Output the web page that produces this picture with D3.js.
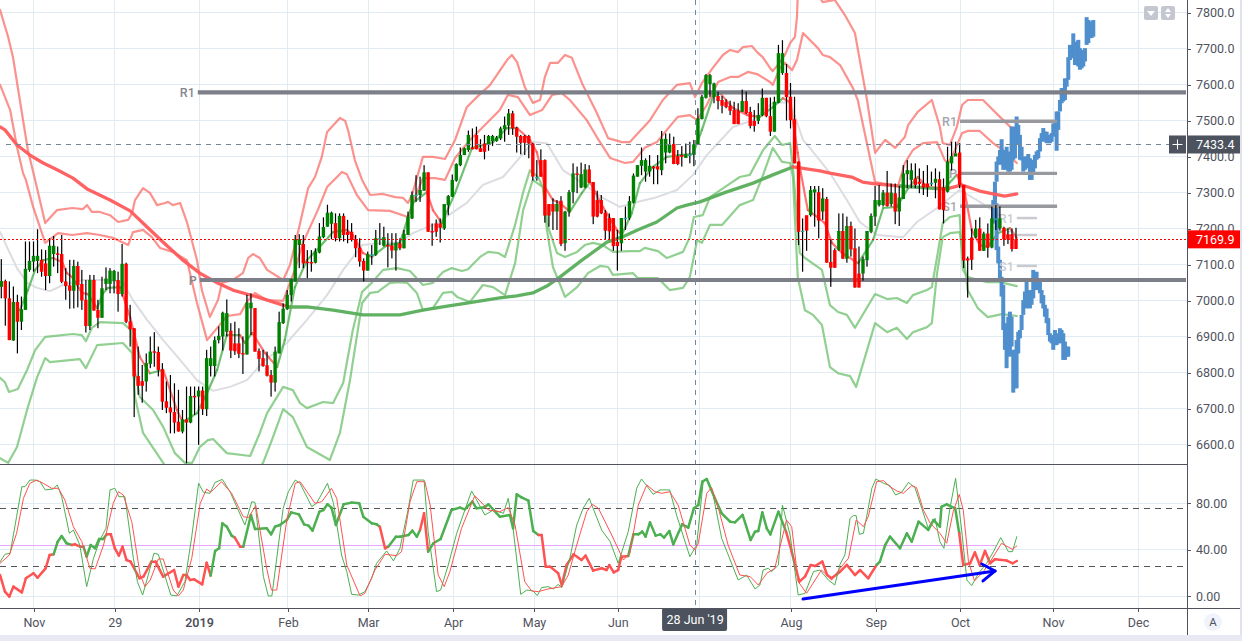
<!DOCTYPE html>
<html><head><meta charset="utf-8">
<style>html,body{margin:0;padding:0;background:#fff;overflow:hidden}svg{display:block}text{font-family:Roboto,sans-serif}</style>
<script src="https://cdn.jsdelivr.net/npm/d3@7"></script></head><body><div id="c"></div>
<script>
const priceTicks=[6600,6700,6800,6900,7000,7100,7200,7300,7400,7500,7600,7700,7800];
const rsiTicks=[0,40,80];
const timeTickBars=[8.1,28.2,49.1,71.2,91.1,112.2,132.3,153.1,173.5,196.1,217.2,238.1,261.2,282.3];
const timeTickLabels=["Nov","29","2019","Feb","Mar","Apr","May","Jun","","Aug","Sep","Oct","Nov","Dec"];
const opens=[7038,7054,7006,6889,6996,6941,6974,7085,7108,7110,
7113,7103,7068,7129,7131,7129,7053,7042,7027,7096,
7046,7002,6929,7057,6974,6952,7046,7046,7054,7057,
7018,7102,6942,6923,6790,6776,6775,6824,6859,6857,
6809,6720,6703,6690,6663,6636,6670,6661,6735,6733,
6750,6698,6818,6818,6890,6900,6913,6916,6881,6881,
6854,6850,6978,6979,6860,6840,6820,6793,6772,6853,
6937,6976,7015,7053,7154,7157,7108,7107,7105,7133,
7176,7205,7213,7215,7173,7235,7191,7191,7170,7147,
7110,7083,7128,7127,7173,7152,7154,7153,7139,7159,
7145,7182,7228,7294,7293,7305,7356,7193,7214,7214,
7200,7265,7288,7333,7376,7404,7418,7425,7460,7423,
7436,7432,7443,7443,7450,7476,7486,7520,7480,7457,
7457,7457,7436,7343,7390,7390,7268,7268,7247,7277,
7159,7247,7301,7353,7314,7314,7364,7329,7279,7279,
7244,7229,7229,7163,7159,7230,7229,7272,7344,7374,
7358,7358,7372,7373,7362,7411,7411,7435,7401,7404,
7396,7406,7406,7434,7504,7563,7601,7566,7568,7557,
7552,7541,7529,7527,7524,7554,7524,7499,7499,7515,
7563,7512,7469,7549,7632,7632,7566,7503,7386,7194,
7237,7237,7300,7301,7247,7282,7107,7140,7140,7193,
7116,7207,7145,7075,7075,7112,7191,7233,7265,7265,
7300,7268,7298,7247,7282,7351,7335,7339,7330,7325,
7325,7327,7327,7337,7314,7302,7381,7400,7411,7321,
7117,7175,7175,7200,7138,7186,7147,7228,7200,7202,
7184,7184,7170];
const closes=[7054,7006,6890,6996,6941,6976,7088,7110,7124,7124,
7080,7068,7152,7152,7127,7052,7040,7027,7096,7043,
7000,6929,7057,6972,6952,7034,7061,7083,7082,7018,
7102,6941,6920,6789,6763,6763,6826,6858,6855,6807,
6719,6702,6689,6661,6636,6670,6661,6735,6731,6750,
6698,6840,6840,6890,6902,6966,6965,6861,6859,6852,
6850,6994,6994,6858,6838,6818,6791,6772,6858,6940,
6977,7016,7059,7170,7170,7103,7105,7105,7136,7178,
7204,7244,7244,7173,7235,7182,7182,7168,7145,7108,
7083,7129,7128,7173,7173,7176,7152,7139,7159,7145,
7185,7233,7293,7294,7307,7356,7191,7189,7191,7202,
7268,7290,7335,7379,7404,7423,7460,7420,7420,7413,
7413,7457,7457,7453,7478,7487,7520,7478,7455,7438,
7438,7436,7344,7343,7344,7236,7236,7247,7268,7157,
7247,7301,7353,7350,7351,7364,7327,7233,7233,7242,
7194,7192,7151,7151,7229,7230,7276,7347,7376,7390,
7390,7374,7367,7364,7449,7449,7432,7379,7379,7399,
7406,7406,7434,7506,7566,7626,7626,7603,7554,7541,
7537,7527,7490,7490,7554,7520,7485,7485,7515,7563,
7512,7469,7552,7687,7687,7565,7501,7381,7191,7194,
7194,7307,7309,7222,7284,7105,7091,7091,7193,7116,
7207,7142,7036,7036,7115,7193,7235,7279,7279,7300,
7262,7300,7247,7286,7353,7362,7362,7321,7324,7314,
7314,7327,7338,7253,7251,7386,7401,7409,7321,7111,
7111,7113,7200,7138,7186,7147,7228,7228,7228,7170,
7170,7143,7143];
const highs=[7115,7058,7053,7039,7016,7011,7164,7164,7164,7198,
7142,7140,7173,7179,7150,7182,7090,7113,7113,7108,
7085,7057,7071,7071,7002,7066,7092,7090,7085,7080,
7157,7105,6988,6923,6872,6821,6853,6900,6912,6872,
6826,6775,6793,6770,6752,6696,6761,6761,6761,6761,
6761,6863,6872,6900,6928,6969,7003,6937,6941,6923,
6900,7016,7020,6979,6867,6863,6858,6807,6872,6969,
6992,7029,7060,7182,7184,7182,7140,7140,7145,7215,
7231,7266,7247,7242,7242,7242,7224,7215,7182,7173,
7117,7136,7154,7196,7215,7205,7187,7187,7187,7173,
7196,7247,7303,7348,7344,7376,7356,7214,7225,7228,
7268,7293,7350,7381,7425,7425,7472,7478,7483,7448,
7460,7460,7460,7457,7483,7511,7532,7527,7483,7460,
7460,7460,7438,7390,7420,7392,7268,7284,7279,7290,
7249,7307,7381,7372,7383,7379,7376,7329,7305,7293,
7251,7242,7229,7196,7229,7261,7290,7353,7376,7425,
7395,7404,7373,7404,7471,7464,7464,7455,7418,7429,
7436,7441,7446,7534,7571,7629,7629,7605,7580,7568,
7559,7555,7552,7548,7586,7580,7538,7529,7548,7589,
7563,7564,7566,7710,7723,7657,7604,7566,7386,7228,
7233,7318,7318,7318,7312,7288,7170,7145,7242,7242,
7233,7219,7200,7150,7122,7193,7242,7318,7321,7307,
7360,7325,7325,7318,7376,7390,7381,7381,7367,7360,
7376,7358,7367,7358,7339,7427,7441,7441,7437,7321,
7122,7200,7224,7231,7191,7214,7261,7265,7261,7205,
7200,7200,7202];
const lows=[7006,6930,6890,6888,6853,6918,6974,7080,7080,7076,
7066,7029,7048,7094,7076,7048,7002,6977,6978,6981,
6974,6911,6918,6972,6923,6952,7029,7020,7020,6969,
7011,6937,6872,6676,6738,6716,6747,6812,6816,6789,
6696,6687,6631,6631,6636,6631,6548,6659,6682,6599,
6682,6679,6789,6789,6881,6861,6900,6840,6849,6840,
6796,6850,6904,6858,6803,6816,6789,6733,6747,6853,
6935,6974,6997,7053,7090,7090,7062,7080,7103,7131,
7173,7205,7170,7164,7164,7164,7159,7164,7120,7094,
7053,7083,7099,7124,7154,7150,7092,7117,7083,7140,
7145,7182,7226,7274,7274,7305,7191,7152,7177,7161,
7196,7237,7288,7330,7373,7404,7413,7420,7420,7413,
7392,7416,7429,7441,7446,7441,7460,7460,7411,7406,
7404,7395,7333,7333,7344,7216,7205,7196,7196,7151,
7138,7233,7270,7298,7312,7312,7327,7212,7231,7240,
7168,7168,7138,7083,7138,7196,7224,7270,7344,7348,
7330,7344,7323,7323,7348,7381,7409,7379,7376,7372,
7396,7381,7373,7432,7503,7561,7566,7548,7531,7520,
7534,7515,7490,7490,7524,7518,7478,7469,7490,7512,
7509,7457,7469,7548,7627,7500,7478,7381,7154,7080,
7138,7233,7205,7173,7224,7105,7038,7091,7138,7116,
7105,7122,7036,7036,7055,7094,7187,7207,7261,7261,
7261,7261,7212,7207,7282,7312,7312,7312,7298,7293,
7288,7318,7284,7253,7214,7300,7361,7409,7312,7090,
7008,7085,7173,7138,7138,7119,7145,7196,7194,7152,
7157,7136,7143];
const upperOuter=[[-.3,7807],[1.7,7732],[2.9,7676],[4.6,7557],[6.6,7418],[8.4,7335],[10.9,7215],[13.8,7251],[17.6,7257],[20.3,7254],[21.3,7265],[22.5,7246],[24.5,7246],[27,7237],[29,7218],[31.5,7224],[32.5,7243],[33.2,7279],[35.2,7312],[36.9,7299],[38.7,7265],[40.7,7271],[41.4,7274],[42.6,7265],[44.4,7271],[46.1,7218],[48.6,7112],[49.8,7029],[51.8,6954],[53.8,7001],[54.8,7049],[57.5,7057],[60,7076],[61.3,7118],[62.5,7129],[64.2,7118],[66,7085],[70,7057],[71.7,7099],[73.4,7176],[76.2,7312],[77.9,7343],[79.6,7399],[80.9,7468],[84.1,7507],[85.4,7499],[86.1,7474],[87.8,7390],[89.6,7335],[91.6,7293],[94.8,7296],[97.8,7287],[99.8,7285],[101,7271],[102,7293],[104.7,7399],[107.2,7399],[110.2,7393],[112.7,7446],[115.6,7537],[118.1,7565],[121.4,7599],[125.6,7668],[126.8,7682],[128.1,7662],[130,7593],[132,7549],[133.8,7557],[135,7621],[136.3,7660],[138.2,7660],[140,7682],[141.7,7674],[144.4,7599],[147.9,7521],[150.7,7451],[154.1,7440],[156.1,7440],[161.1,7501],[164.3,7557],[167.8,7599],[171,7604],[172.3,7565],[174,7604],[176.7,7646],[179.2,7682],[181,7696],[183,7690],[184.2,7704],[186.4,7707],[187.7,7690],[189.1,7676],[190.9,7646],[191.6,7637],[193.4,7662],[194.6,7682],[195.9,7715],[197.1,7732],[197.6,7787],[197.8,7849],[200.8,7946],[202,7862],[204,7829],[207,7835],[209.5,7793],[212,7743],[213.2,7668],[215,7557],[217,7410],[219.5,7446],[222,7424],[224.4,7454],[225.2,7487],[227.6,7524],[231.1,7557],[233.1,7482],[233.8,7437],[235.6,7432],[237.3,7482],[238.6,7543],[240,7557],[243.8,7557],[248,7510],[252.2,7465]];
const upperInner=[[-.3,7599],[2.2,7529],[3.9,7426],[5.4,7354],[6.1,7335],[7.9,7260],[10.9,7160],[14.1,7187],[17.6,7182],[21.3,7187],[24.5,7182],[27.7,7174],[31.5,7154],[32.7,7190],[35.2,7196],[37.4,7176],[39.4,7146],[42.6,7135],[46.1,7112],[48.6,6993],[51.1,6890],[53.8,6926],[56,6957],[59.3,6962],[61.3,7001],[63,7021],[66,7001],[70,6999],[71.2,7035],[72.9,7085],[74.9,7160],[78.6,7251],[80.9,7315],[84.6,7357],[85.8,7351],[88.3,7293],[91.1,7251],[96.5,7249],[101,7232],[103.2,7299],[104.7,7340],[107.7,7340],[110.2,7335],[112.7,7396],[116.4,7446],[120.6,7493],[123.8,7529],[125.8,7571],[128.3,7565],[131.3,7515],[132.5,7521],[134.3,7529],[136.8,7571],[139.2,7576],[141.2,7557],[145.4,7501],[147.9,7454],[151.2,7396],[154.9,7382],[156.9,7385],[159.8,7424],[162.8,7440],[165.3,7474],[168,7510],[171,7515],[172.8,7501],[175.2,7543],[178,7607],[181,7621],[183,7621],[185.4,7635],[187.7,7629],[190.9,7607],[191.6,7599],[193.4,7646],[194.6,7660],[196.4,7640],[197.6,7668],[199.1,7743],[202.8,7701],[204,7682],[205.8,7676],[208.3,7654],[211.5,7590],[212.7,7557],[217,7329],[222.7,7318],[224.4,7382],[226.4,7418],[228.9,7437],[232.4,7440],[234.3,7390],[235.1,7382],[236.3,7404],[238.6,7465],[240,7471],[243,7471],[246.3,7437],[248.7,7418],[252.2,7382]];
const lowerInner=[[-.3,6785],[.9,6773],[1.9,6746],[4.1,6754],[6.4,6807],[8.4,6862],[10.9,6899],[12.8,6901],[17.8,6907],[20,6904],[21,6887],[22.5,6924],[24.5,6940],[30.2,6937],[32.2,6918],[33,6815],[34.4,6732],[37.7,6696],[40.2,6649],[43.1,6576],[45.6,6549],[47.4,6549],[49.3,6593],[51.3,6612],[52.6,6615],[56,6576],[61.8,6568],[64.2,6632],[66,6687],[70,6760],[72.4,6751],[74.2,6715],[75.9,6701],[79.9,6718],[82.4,6715],[84.9,6771],[87.3,6918],[89.6,7024],[92,7049],[94.8,7085],[98.3,7090],[101.5,7082],[104.7,7043],[107.2,7049],[109.7,7079],[111.9,7090],[114.4,7082],[115.9,7087],[118.9,7121],[120.9,7135],[123.4,7132],[125.1,7121],[127.6,7210],[129.6,7301],[131.3,7362],[133.3,7343],[134.5,7315],[135.8,7204],[138,7132],[140,7121],[143,7135],[144.9,7154],[146.9,7160],[149.4,7154],[151.9,7135],[156.1,7137],[158.6,7137],[159.8,7146],[163.1,7137],[165.3,7118],[169.3,7135],[171,7176],[172,7232],[174.2,7237],[176,7287],[180.5,7321],[183.4,7343],[185.9,7349],[189.2,7418],[192.1,7457],[193.9,7432],[195.9,7437],[196.6,7371],[198.3,7132],[199.6,7118],[203.8,7085],[205.8,6987],[207.8,6968],[210,6960],[212,6924],[217,7018],[220,7004],[222.4,7007],[224.9,6993],[226.4,7015],[229.9,7029],[231.1,7037],[232.4,7121],[233.8,7215],[235.6,7232],[238,7237],[238.8,7085],[240,7065],[244.8,7051],[248,7051],[252.2,7040]];
const lowerOuter=[[-.3,6562],[1.7,6549],[3.9,6593],[6.6,6704],[8.9,6787],[10.9,6840],[12.1,6829],[19.5,6837],[21,6812],[23.8,6876],[30.2,6882],[32.5,6854],[33.2,6732],[35.2,6632],[40.2,6549],[43.1,6501],[49.3,6474],[59.3,6474],[65,6549],[67.2,6612],[70,6698],[72.4,6676],[75.9,6593],[81.6,6557],[84.1,6632],[86.6,6779],[89.6,6993],[91.6,7021],[93.5,7024],[96.5,7049],[99,7051],[100.8,7049],[103.2,7021],[104.7,6973],[107.2,6979],[109.7,7021],[111.9,7024],[113.2,7010],[116.4,6996],[119.6,7043],[122.1,7037],[125.1,7015],[127.6,7104],[129.6,7251],[132,7335],[134.5,7315],[135.5,7196],[137,7093],[140,7010],[143,7037],[145.7,7076],[148.7,7096],[150.7,7093],[151.9,7071],[156.9,7076],[158.1,7062],[163.1,7062],[166,7029],[169.3,7035],[171,7065],[172.8,7168],[174,7160],[176,7210],[179,7210],[183.4,7265],[186.7,7279],[189,7343],[191.6,7424],[193.9,7385],[195.9,7382],[196.6,7343],[197.8,7065],[199.6,6973],[201.6,6960],[203.8,6932],[205.8,6815],[207.8,6798],[210.8,6790],[212.3,6760],[217,6937],[220,6912],[222.4,6924],[224.9,6893],[226.4,6912],[229.9,6926],[231.1,6937],[232.4,7076],[233.8,7176],[235.6,7187],[238,7190],[239.3,7093],[240,7029],[242.5,6979],[245,6954],[248.5,6962],[252.2,6957]];
const longMaRedA=[[-.3,7482],[.9,7474],[3.9,7432],[7.1,7404],[10.4,7382],[14.1,7362],[17.8,7340],[21.3,7310],[27,7279],[32,7249],[36.2,7204],[40.2,7162],[45.1,7112],[49.3,7076],[53.6,7049],[57.5,7029],[63.5,7010],[70,6987],[71.7,6982]];
const longMaGreenA=[[71.7,6982],[75.9,6982],[82.4,6973],[89.8,6960],[94.8,6960],[99,6960],[104.7,6973],[110,6983],[115.6,6993],[123.8,7007],[128,7013],[132,7021],[135.5,7040],[138.7,7065],[144.2,7112],[150.4,7162],[154.1,7176],[158,7196],[162.8,7218],[167.8,7257],[170,7264],[173.5,7274],[180,7301],[186.7,7326],[191.6,7349],[196.6,7371]];
const longMaRedB=[[196.6,7371],[203.3,7360],[205.8,7354],[211.2,7343],[213.9,7329],[217,7324],[223.2,7318]];
const longMaGreenB=[[223.2,7318],[233.1,7310],[234.8,7310]];
const longMaRedC=[[234.8,7310],[238.6,7321],[243,7304],[246.3,7296],[249.2,7290],[252.2,7296]];
const slowMa=[[-.3,7190],[1.4,7149],[3.9,7090],[6.4,7049],[8.9,7035],[12.1,7026],[15.3,7043],[20.3,7057],[26.2,7057],[30.2,7051],[32.7,7001],[36.2,6946],[40.2,6890],[44.4,6835],[48.6,6779],[52.6,6749],[56.8,6760],[61,6779],[65,6829],[70.9,6882],[75.9,6946],[80.9,7015],[84.9,7085],[89.6,7154],[94.8,7160],[99,7162],[102.2,7187],[108.2,7215],[115.6,7271],[119.6,7321],[124.6,7343],[127.6,7382],[132,7440],[135.5,7437],[139.5,7362],[144.4,7326],[149.4,7285],[153.6,7260],[156.9,7271],[162.8,7287],[167.8,7307],[171.8,7349],[175.2,7404],[181.7,7482],[186.7,7501],[191.6,7549],[195.9,7551],[199.1,7446],[200.8,7424],[205.8,7354],[210,7279],[213.2,7218],[217.5,7182],[224,7176],[227.4,7218],[232.4,7257],[238,7307],[243,7274],[248,7237]];
const fastMa=[[4.6,6973],[6.6,7029],[8.4,7085],[10.4,7112],[12.8,7118],[15.1,7107],[16.3,7076],[17.6,7065],[20,7021],[21.5,7018],[23.8,6979],[25.3,7021],[26.5,7035],[29.5,7037],[32,6954],[34.4,6843],[36.9,6798],[40.2,6807],[43.6,6696],[45.1,6662],[48.6,6687],[51.1,6743],[53.6,6807],[56,6904],[59.3,6904],[60.5,6882],[62.3,6910],[65.5,6854],[68.5,6815],[70.4,6890],[72.9,7037],[75.9,7112],[79.1,7149],[82.4,7190],[85.8,7196],[87.3,7182],[89.8,7132],[92,7121],[95.8,7154],[99,7160],[102.2,7271],[105.7,7301],[107.2,7251],[109.4,7215],[112.7,7299],[116.9,7424],[118.9,7429],[122.1,7440],[125.6,7479],[128.1,7479],[131.3,7446],[133,7412],[135,7315],[137,7279],[138.7,7271],[141.2,7246],[144.2,7299],[146.2,7329],[149.4,7260],[152.9,7196],[154.1,7182],[156.6,7243],[158.6,7326],[161.8,7371],[165.3,7399],[168.6,7404],[171.8,7407],[174,7474],[176.7,7565],[178.5,7576],[181.7,7535],[185.2,7515],[188.4,7510],[191.6,7537],[194.1,7562],[195.9,7551],[197.8,7410],[198.3,7371],[200.3,7251],[202.6,7232],[204.5,7215],[206.3,7160],[208.8,7132],[212.8,7104],[216.5,7168],[219,7257],[222.4,7260],[225.2,7312],[227.6,7343],[229.9,7315],[234.3,7312],[237.3,7349],[239.3,7299],[241,7196],[243,7154],[245,7149],[247.5,7187],[250.5,7201],[252.2,7174]];
const ghostStep=.414;
const ghostUpStart=246.77;
const ghostUpHigh=[7330,7386,7400,7418,7448,7418,7404,7427,7414,7409,7483,7483,7469,7511,7488,7460,7427,7391,7400,7400,7407,7395,7386,7391,7404,7414,7418,7451,7465,7479,7469,7469,7460,7460,7465,7492,7492,7525,7525,7557,7590,7590,7617,7617,7676,7710,7710,7742,7719,7715,7724,7701,7696,7696,7701,7787,7779,7775,7775,7779];
const ghostUpLow=[7279,7330,7377,7381,7377,7363,7363,7381,7358,7358,7363,7391,7395,7432,7437,7391,7389,7358,7363,7367,7372,7335,7335,7349,7367,7391,7395,7414,7446,7441,7446,7437,7437,7437,7441,7455,7469,7416,7474,7525,7548,7553,7557,7594,7613,7668,7673,7682,7654,7668,7650,7641,7645,7650,7664,7710,7715,7729,7729,7733];
const ghostDownStart=246.35;
const ghostDownHigh=[7279,7307,7270,7150,7113,7066,7043,6937,6927,6955,6969,6955,6863,6863,6890,6913,6918,6960,7001,7025,7052,7029,7025,7029,7085,7062,7080,7057,7057,7029,7015,6988,6978,6951,6909,6899,6904,6918,6909,6899,6923,6918,6909,6886,6872,6872];
const ghostDownLow=[7214,7261,7140,7103,7062,7011,6918,6863,6812,6863,6844,6872,6744,6756,6756,6853,6895,6918,6960,6992,6978,6983,6978,6988,7006,7029,7029,7038,7020,6992,6978,6955,6937,6904,6886,6881,6863,6876,6876,6881,6881,6886,6835,6835,6844,6844];
const lastPrice=7169.9, crossPrice=7433.4, crossBar=172.3;
const crossLabel="28 Jun '19";
const levelMajorNames=["R1","P"], levelMajorValues=[7578,7057], levelMajorStart=[48.8,49.3];
const levelMidNames=["R1","P","S1"], levelMidValues=[7498,7353,7262];
const levelMinorNames=["R1","P","S1"], levelMinorValues=[7229,7182,7096];
const rsiLine=[[-.3,18.3],[.9,4],[2,-.3],[3,8.3],[5.1,3.4],[6.1,15.5],[8,19.8],[9,16],[11,24],[12,35.5],[13,36.1],[14,47],[15,51.9],[16.2,45.6],[17.5,44.1],[18.3,44.7],[19.6,42.7],[20.4,42.7],[21.2,34.1],[22.2,44.1],[23.3,41.3],[24.3,49.3],[25.3,49.3],[26.2,53.3],[27.2,53.3],[28.2,41.3],[29.2,35],[30.1,42.7],[31.1,31.2],[32.1,29.8],[34.3,15.5],[35.3,16.9],[37.3,29.8],[38.3,29.8],[40.2,16.9],[42.9,22.6],[44,8.3],[45.2,18.3],[46,18.3],[46.9,14],[47.9,14.6],[49.9,10.3],[51,28.9],[52,17.8],[53.1,39],[54.1,41.3],[54.9,62.8],[56,59.9],[57.2,52.2],[58,50.5],[59.3,42.7],[60.1,42.7],[62,69.9],[63,57.9],[65.9,58.5],[67,53.3],[68,59.9],[69.2,61.3],[70.9,65.6],[72,72.2],[73.9,70.5],[75.2,61.9],[76.3,60.8],[77.3,56.5],[79,72.8],[80,74.2],[81,79.1],[82,76.3],[83.1,61.3],[85,79.1],[87,80.6],[88.9,80],[89.9,68.5],[92,62.8],[93.2,61.9],[94,59.9],[95.3,41.3],[96.1,42.7],[98,51.3],[99,51.3],[101.1,52.7],[102.1,56.5],[103.2,51.3],[104,57],[105,71.4],[106,38.4],[107.3,45.6],[109.1,49.3],[111.8,74.2],[113.9,76.3],[115.1,74.8],[117,81.4],[118,75.7],[119.7,76.3],[121,79.1],[122.3,74.2],[123.8,68.5],[126.3,69.9],[127.1,58.5],[128,87.7],[129.2,85.1],[130.9,82.3],[132.1,56.2],[133.4,52.7],[134.2,52.7],[135.2,25.5],[136.3,25.5],[138.3,19.8],[139.2,9.7],[140.4,26.9],[142.1,36.1],[144.1,31.2],[145.1,35],[147,22.1],[149.1,24.1],[150.3,22.6],[151,26.9],[152.1,20.6],[153.2,22.6],[154,34.1],[155.7,34.7],[157,53.3],[158.2,53.3],[159.2,55.6],[160,51.3],[161.1,63.6],[162.5,52.2],[163.7,53.3],[164.6,50.5],[165.9,56.2],[166.9,44.7],[169.1,61.9],[170.6,59.1],[172,75.7],[173.1,78.5],[174.1,98.6],[175.2,100.9],[177.2,84.3],[178.9,71.4],[181,64.2],[182.2,63.6],[184.1,70],[186.1,48.4],[187.2,55.6],[188,56.2],[189,72.2],[190.1,58.5],[191,53.3],[193,72.8],[194.9,55.6],[196.3,38.4],[197.1,26.9],[198.2,12.6],[199.6,16.9],[201,26.9],[202.1,26.1],[203.9,29.8],[205.1,18.3],[206.2,15.5],[208.3,21.2],[210,27],[212,18.3],[213.3,22.6],[215.3,15.5],[217.4,27],[218.2,29.8],[219.5,44.1],[220.7,51.3],[223.2,41.3],[224.9,54.2],[226.1,47],[227.8,64.2],[230.2,57.1],[231.5,65.6],[233.1,59.9],[233.5,77.1],[234.8,79.1],[236.9,75.7],[237.9,54.2],[238.9,26.9],[240.6,28.4],[241.8,37.8],[243,26.9],[244.3,39],[245.6,28.4],[246.8,31.8],[249.7,30.7],[251.2,28.4],[252.2,30.4]];
const rsiRedRanges=[[-1,13],[17.5,20.4],[26.2,52.5],[58.5,60.5],[94,97],[104.5,106],[133.5,155],[195,217.5],[238,253]];
const stochK=[[-.3,29.8],[.9,36.1],[2.2,37],[3.8,68.5],[5.1,94.3],[5.9,94.3],[7.1,100],[8.4,100],[9.6,98.6],[10.9,91.5],[12.9,92.3],[13.9,95.8],[15,85.7],[16.9,54.2],[17.9,57],[19.5,44.1],[21.2,8.3],[22.9,32.7],[24.5,48.5],[26,58.5],[27,91.5],[28.2,92.9],[29.2,85.7],[30.7,85.7],[32.8,32.7],[33.8,12.6],[35.1,1.1],[36.5,18.3],[37.9,37],[39,36.1],[40.7,16.9],[42.1,1.1],[43.6,.3],[45.6,12.6],[47.3,51.3],[49,97.2],[50.2,89.5],[51.8,88.6],[53.1,98],[54.9,100.6],[56.8,90],[60.5,61.3],[62.2,81.4],[63,80.8],[65.1,16.9],[66.3,.3],[67.2,.3],[70,75.7],[71.3,90],[73,100],[74.2,97.2],[77.1,77.1],[78.3,80],[81,97.2],[82.5,80],[84.5,35.5],[85.8,21.2],[87,1.7],[88.7,1.1],[90.3,4],[92,15.5],[93.2,28.4],[95.7,39],[97.4,30.4],[99,41.3],[101.1,75.7],[102.3,100],[104,100],[105,100],[106,55.6],[108.1,4],[109.1,5.4],[111,26.9],[113.1,54.2],[116.8,90.6],[120.1,69.9],[122.2,74.2],[124.7,71.4],[125.9,84.3],[127.1,58.5],[129,1.7],[130.5,5.4],[132.1,4.6],[133.1,.6],[134.2,7.5],[135.8,8.3],[137.1,6.3],[138.3,10.3],[139.2,7.5],[141.2,32.7],[142.9,61.3],[144.5,75.7],[146,84.3],[149.1,57],[151.2,47],[153.2,28.4],[155.7,55.6],[157.8,92.9],[159,100.9],[161.9,87.7],[163.6,91.5],[166,91.5],[167.7,69.9],[171,34.1],[172.7,44.1],[174.3,98.6],[175.2,100.9],[176.8,87.1],[178.9,49.9],[183,14],[185.1,18.3],[187.2,6.3],[188.4,9.7],[189.2,22.6],[190.5,24.1],[191.3,21.2],[193,26.9],[194,78.5],[195.9,52.7],[197.9,1.1],[199.6,2.6],[201.7,21.2],[203.3,22.6],[205.4,14],[207,9.7],[208.3,27.5],[209.5,35.5],[210.8,67.1],[211.6,69.4],[212.3,69.4],[213.1,53.3],[214.1,54.2],[215.3,75.7],[216.2,92.9],[217.2,100.9],[219.1,97.2],[220.7,95.2],[222.1,87.1],[223.6,89.5],[225.3,98],[226.9,93.5],[228.6,75.7],[230.2,58.5],[231.9,67.1],[233.1,47],[234.1,41.3],[235.6,75.7],[237,101.5],[238.5,57],[239.8,14],[241,9.2],[242.7,19.8],[244.7,28.4],[246.4,38.4],[248.2,50.5],[250.1,38.4],[251.1,38.4],[252.2,51.3]];
const stochD=[[-.3,28.4],[2,35.5],[3.8,54.2],[5.5,84.3],[7.1,97.2],[8.8,100],[10.4,97.2],[12.5,92.9],[14.2,92.9],[15.8,82.8],[17.9,59.9],[20,47],[22,24.1],[23.3,23.5],[25.4,44.1],[27.8,80],[29.1,90],[30.3,87.1],[32.4,64.2],[34.5,18.3],[35.7,8.3],[37,14],[39,32.1],[40.2,32.1],[42.7,5.4],[44,.3],[45.2,5.4],[47.3,32.7],[49.4,80],[51,92.3],[52,89.5],[54.7,98.6],[57.2,88.6],[60.1,68.5],[61.4,67.7],[63.2,78],[65.9,24.1],[67.1,5.4],[68.4,5.4],[70.9,65.6],[73,97.2],[74.2,98.6],[77.9,80],[79.6,81.4],[82,92.9],[83.3,84.3],[85.8,26.9],[89.1,.3],[90.3,2.6],[92.8,22.6],[95.3,36.1],[98.2,35],[99.4,38.4],[101.5,81.4],[103.2,98.6],[105.2,98.6],[106.5,78.5],[108.5,18.3],[110,8.3],[111.4,21.2],[114.3,58.5],[117.6,86.6],[121,74.2],[123.8,72.8],[125.9,76.3],[127.6,61.3],[130,12.6],[131.7,4.6],[133.4,4],[135.8,6.3],[139.2,8.3],[140.8,18.3],[142.9,44.1],[145.4,72.8],[146.8,79.1],[148.3,75.7],[151.6,52.7],[154.5,31.2],[156.1,37],[158.2,78.5],[160.3,95.8],[162.3,90],[164,88.6],[166,90],[168.1,78.5],[171,44.1],[172.3,39.8],[173.1,45.6],[175.2,88.6],[176.4,93.5],[178.1,75.7],[180.5,44.1],[183.4,18.3],[186,16.9],[188,9.7],[190.1,19.8],[192.1,24.1],[195,65.6],[196.3,59.9],[197.9,12.6],[200,2.6],[202.1,14],[203.7,22.6],[206.2,14],[208.3,24.1],[210.4,32.7],[212.3,65.6],[214.1,59.9],[215.3,68.5],[217.4,98.6],[219.1,99.5],[220.7,94.3],[222.4,90.6],[224,88.6],[226.1,95.2],[227.3,93.5],[229,74.2],[230.7,62.8],[233.1,54.2],[234.8,45.6],[236.4,72.8],[237.9,87.7],[238.9,74.2],[240.2,29.8],[241.7,13.2],[243.9,21.2],[245.6,29.8],[248.4,45.6],[251.1,40.4],[252.2,43.3]];
const rsiBands=[75.7,25.8], rsiMid=43.9;
const arrowShaft=[[199.1,-2.3],[246.8,21.8]];
const arrowHead=[[243.5,27.8],[246.8,21.8],[243.8,13.2]];

const W=1242,H=641,axisX=1187,rightEdge=1240,paneBottom=464,timeY=608,bottom=635;
const svg=d3.select("#c").append("svg").attr("width",W).attr("height",H);
const x=d3.scaleLinear().domain([0,252]).range([1.3,1016]);
const y=d3.scaleLinear().domain([7800,6600]).range([12.5,444.5]);
const r=d3.scaleLinear().domain([80,0]).range([503.3,596.3]);
const defs=svg.append("defs");
defs.append("clipPath").attr("id","cp").append("rect").attr("width",axisX).attr("height",paneBottom);
defs.append("clipPath").attr("id","cr").append("rect").attr("y",paneBottom+1).attr("width",axisX).attr("height",timeY-paneBottom-1);
const gridC="#e0ebf2";
const grid=svg.append("g").attr("shape-rendering","crispEdges").attr("stroke",gridC).attr("stroke-width",1);
grid.selectAll(".v").data(timeTickBars).join("line").attr("x1",d=>x(d)).attr("x2",d=>x(d)).attr("y1",0).attr("y2",timeY);
grid.selectAll(".h").data(priceTicks).join("line").attr("x1",0).attr("x2",axisX).attr("y1",d=>y(d)).attr("y2",d=>y(d));
grid.selectAll(".r").data(rsiTicks).join("line").attr("x1",0).attr("x2",axisX).attr("y1",d=>r(d)).attr("y2",d=>r(d));

const p=svg.append("g").attr("clip-path","url(#cp)");
const lineP=d3.line().x(d=>x(d[0])).y(d=>y(d[1]));
const lineR=d3.line().x(d=>x(d[0])).y(d=>r(d[1]));
const draw=(g,gen,data,c,w,o)=>g.append("path").attr("d",gen(data)).attr("fill","none").attr("stroke",c).attr("stroke-width",w).attr("stroke-opacity",o===undefined?1:o).attr("stroke-linejoin","round").attr("stroke-linecap","round");

draw(p,lineP,slowMa,"#dcdce2",2);
[upperOuter,upperInner].forEach(s=>draw(p,lineP,s,"#f96e68",2.2,.75));
[lowerInner,lowerOuter].forEach(s=>draw(p,lineP,s,"#6cc06c",2.2,.75));
d3.pairs(fastMa).forEach(s=>draw(p,lineP,s,s[1][1]>=s[0][1]?"#4caf50":"#ff5252",2.2,.8));

const ghost=p.append("g").attr("fill","#4f8fcd");
const ghostBars=(hi,lo,start)=>ghost.append("g").selectAll("rect").data(hi).join("rect")
 .attr("x",(d,i)=>x(start+i*ghostStep)-2).attr("width",4)
 .attr("y",d=>y(d)).attr("height",(d,i)=>y(lo[i])-y(d));
ghostBars(ghostUpHigh,ghostUpLow,ghostUpStart);
ghostBars(ghostDownHigh,ghostDownLow,ghostDownStart);

[[longMaRedA,"#ff5a5a"],[longMaGreenA,"#57ae5a"],[longMaRedB,"#ff5a5a"],[longMaGreenB,"#57ae5a"],[longMaRedC,"#ff5a5a"]].forEach(s=>draw(p,lineP,s[0],s[1],3.3,.95));

const lvl=p.append("g");
levelMajorValues.forEach((v,i)=>{
 lvl.append("line").attr("x1",x(levelMajorStart[i])).attr("x2",axisX-1).attr("y1",y(v)).attr("y2",y(v)).attr("stroke","#7d7f88").attr("stroke-width",4.2);
 lvl.append("text").attr("x",x(levelMajorStart[i])-3).attr("y",y(v)+5).attr("text-anchor","end").attr("font-size",12.5).attr("font-weight",500).attr("fill","#85878f").text(levelMajorNames[i]);
});
levelMidValues.forEach((v,i)=>{
 lvl.append("line").attr("x1",x(238.1)).attr("x2",x(262.2)).attr("y1",y(v)).attr("y2",y(v)).attr("stroke","#98999f").attr("stroke-width",3.4);
 lvl.append("text").attr("x",x(238.1)-3).attr("y",y(v)+5).attr("text-anchor","end").attr("font-size",12.5).attr("font-weight",500).attr("fill","#a5a6ad").text(levelMidNames[i]);
});
levelMinorValues.forEach((v,i)=>{
 lvl.append("line").attr("x1",x(252.2)).attr("x2",x(257.2)).attr("y1",y(v)).attr("y2",y(v)).attr("stroke","#c9cad0").attr("stroke-width",2.5);
 lvl.append("text").attr("x",x(252.2)-3).attr("y",y(v)+5).attr("text-anchor","end").attr("font-size",12.5).attr("font-weight",500).attr("fill","#c9cad0").text(levelMinorNames[i]);
});

const cg=p.append("g");
cg.selectAll(".w").data(opens).join("rect").attr("x",(d,i)=>x(i)-.6).attr("width",1.2)
 .attr("y",(d,i)=>y(highs[i])).attr("height",(d,i)=>y(lows[i])-y(highs[i])).attr("fill","#000");
cg.selectAll(".b").data(opens).join("rect").attr("x",(d,i)=>x(i)-1.7).attr("width",3.4)
 .attr("y",(d,i)=>y(Math.max(d,closes[i]))).attr("height",(d,i)=>Math.max(1.5,Math.abs(y(d)-y(closes[i]))))
 .attr("fill",(d,i)=>closes[i]===d?"#26a69a":closes[i]>d?"#008000":"#ff0000");

p.append("line").attr("x1",0).attr("x2",axisX).attr("y1",y(lastPrice)).attr("y2",y(lastPrice)).attr("stroke","#f00").attr("stroke-width",1).attr("stroke-dasharray","2 2").attr("shape-rendering","crispEdges");
p.append("line").attr("x1",6).attr("x2",1169).attr("y1",y(crossPrice)).attr("y2",y(crossPrice)).attr("stroke","#758696").attr("stroke-width",1).attr("stroke-dasharray","5 5").attr("shape-rendering","crispEdges");

const q=svg.append("g").attr("clip-path","url(#cr)");
rsiBands.forEach(v=>q.append("line").attr("x1",0).attr("x2",axisX).attr("y1",r(v)).attr("y2",r(v)).attr("stroke","#555").attr("stroke-dasharray","6 5").attr("shape-rendering","crispEdges"));
q.append("line").attr("x1",0).attr("x2",x(247)).attr("y1",r(rsiMid)).attr("y2",r(rsiMid)).attr("stroke","#e8a5fb").attr("shape-rendering","crispEdges");
d3.pairs(rsiLine).forEach(s=>{const m=(s[0][0]+s[1][0])/2;const red=rsiRedRanges.some(t=>m>=t[0]&&m<t[1]);draw(q,lineR,s,red?"#ff5252":"#4caf50",2.5);});
draw(q,lineR,stochK,"#4caf50",1);
draw(q,lineR,stochD,"#ff5252",1);
draw(q,lineR,arrowShaft,"#0000ff",3);
draw(q,lineR,arrowHead,"#0000ff",3);

svg.append("line").attr("x1",x(crossBar)).attr("x2",x(crossBar)).attr("y1",0).attr("y2",timeY).attr("stroke","#758696").attr("stroke-dasharray","5 5").attr("shape-rendering","crispEdges");

const border="#50535e",txt="#50535e";
svg.append("line").attr("x1",0).attr("x2",axisX).attr("y1",paneBottom).attr("y2",paneBottom).attr("stroke",border).attr("shape-rendering","crispEdges");

const fmt=g=>{g.selectAll("text").attr("fill",txt).attr("font-size",12.5).attr("font-family","Roboto,sans-serif");g.selectAll("line").attr("stroke",border);g.select(".domain").remove();};
svg.append("g").attr("transform",`translate(${axisX},0)`).attr("shape-rendering","crispEdges")
 .call(d3.axisRight(y).tickValues(priceTicks).tickFormat(d3.format(".1f")).tickSize(4).tickPadding(5)).call(fmt);
svg.append("g").attr("transform",`translate(${axisX},0)`).attr("shape-rendering","crispEdges")
 .call(d3.axisRight(r).tickValues(rsiTicks).tickFormat(d3.format(".2f")).tickSize(4).tickPadding(5)).call(fmt);
const xa=svg.append("g").attr("transform",`translate(0,${timeY})`).attr("shape-rendering","crispEdges")
 .call(d3.axisBottom(x).tickValues(timeTickBars).tickFormat((d,i)=>timeTickLabels[i]).tickSize(4).tickPadding(6)).call(fmt);
xa.selectAll("text").attr("font-size",12.5).attr("font-weight",(d,i)=>timeTickLabels[i]==="2019"?600:400);

svg.append("line").attr("x1",0).attr("x2",rightEdge).attr("y1",timeY+.5).attr("y2",timeY+.5).attr("stroke",border);
svg.append("line").attr("x1",axisX+.5).attr("x2",axisX+.5).attr("y1",0).attr("y2",bottom).attr("stroke",border);
svg.append("rect").attr("x",rightEdge).attr("width",W-rightEdge).attr("height",H).attr("fill","#e0e3eb");
svg.append("rect").attr("y",bottom).attr("width",W).attr("height",H-bottom).attr("fill","#e8e9f2");

const dark="#4c525e";
const xl=x(crossBar);
svg.append("path").attr("d",`M${xl-33},${timeY+1}H${xl+32}V${timeY+21}q0,2 -2,2H${xl-31}q-2,0 -2,-2Z`).attr("fill",dark);
svg.append("text").attr("x",xl).attr("y",timeY+16).attr("text-anchor","middle").attr("font-size",12.5).attr("fill","#fff").text(crossLabel);

const yc=y(crossPrice), yl=y(lastPrice);
svg.append("rect").attr("x",1169).attr("y",yc-9).attr("width",17).attr("height",18).attr("fill",dark);
svg.append("path").attr("d",`M${1177.5-5},${yc}H${1177.5+5}M1177.5,${yc-5}V${yc+5}`).attr("stroke","#fff").attr("stroke-width",1);
svg.append("rect").attr("x",axisX+1).attr("y",yc-9).attr("width",rightEdge-axisX-1).attr("height",18).attr("fill",dark);
svg.append("text").attr("x",1196).attr("y",yc+4.5).attr("font-size",12.5).attr("fill","#fff").text(d3.format(".1f")(crossPrice));
svg.append("rect").attr("x",axisX+1).attr("y",yl-9).attr("width",rightEdge-axisX-1).attr("height",18).attr("fill","#f00");
svg.append("text").attr("x",1196).attr("y",yl+4.5).attr("font-size",12.5).attr("fill","#fff").text(d3.format(".1f")(lastPrice));

svg.append("rect").attr("x",1144).attr("y",6).attr("width",14).attr("height",14).attr("rx",2).attr("fill","#c5c7d0");
svg.append("rect").attr("x",1161).attr("y",6).attr("width",14).attr("height",14).attr("rx",2).attr("fill","#c5c7d0");
svg.append("path").attr("d","M1147,11H1155L1151,16Z").attr("fill","#fff");
svg.append("path").attr("d","M1165,12L1168,8L1171,12ZM1165,14L1168,18L1171,14Z").attr("fill","#fff");
svg.append("circle").attr("cx",1213).attr("cy",622).attr("r",9).attr("fill","#f0f3fa");
svg.append("text").attr("x",1213).attr("y",626).attr("text-anchor","middle").attr("font-size",11.5).attr("fill",txt).text("A");
</script></body></html>
